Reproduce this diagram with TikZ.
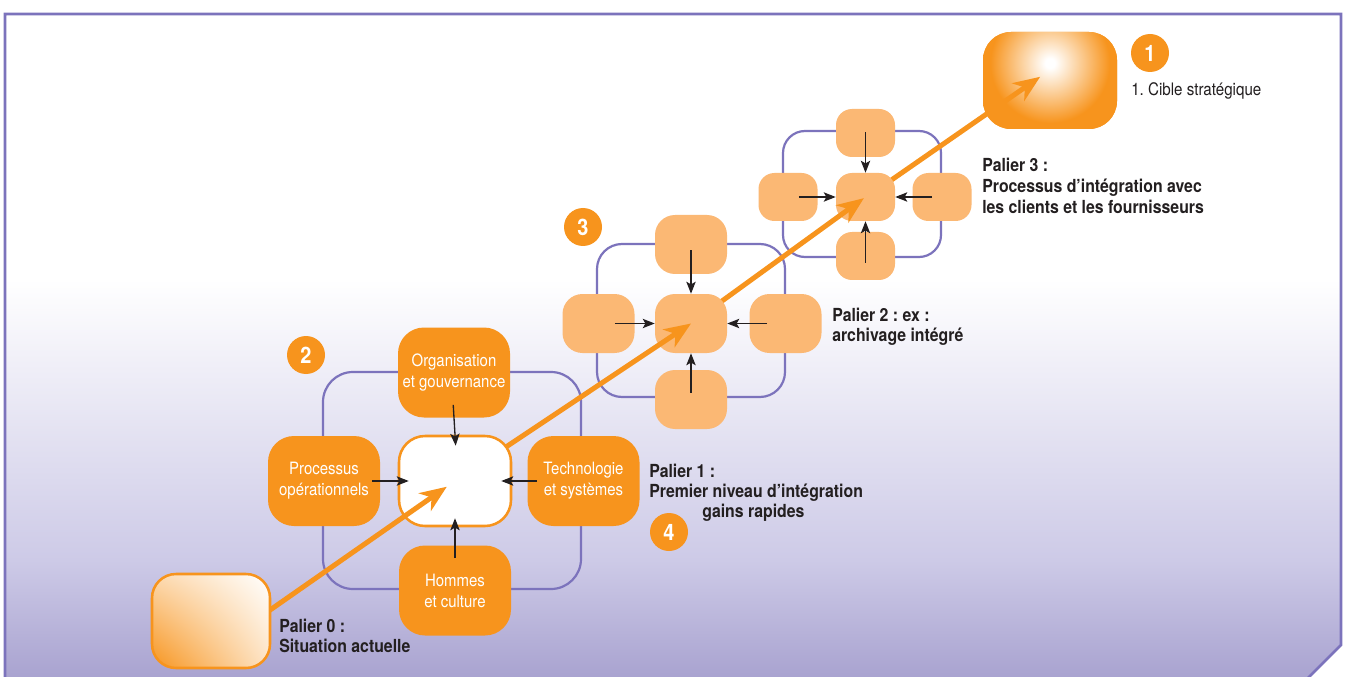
\documentclass[tikz,border=0pt]{standalone}
\usepackage{fontspec}
\setmainfont{TeX Gyre Heros}[FakeStretch=0.88]
\usetikzlibrary{arrows.meta,shadings}

\definecolor{orangeC}{HTML}{F7941D}
\definecolor{lightO}{HTML}{FBB874}
\definecolor{purp}{HTML}{7C73BC}
\definecolor{ink}{HTML}{231F20}
\definecolor{lavB}{HTML}{A9A3D0}
\definecolor{lavM}{HTML}{CDCAE7}

\newcommand{\boxfont}{\fontsize{12.75pt}{15.75pt}\selectfont}
\newcommand{\lblfont}{\fontsize{13.5pt}{15pt}\selectfont\bfseries}
\newcommand{\cibfont}{\fontsize{12.9pt}{15pt}\selectfont}
\newcommand{\badgefont}{\fontsize{17pt}{18pt}\selectfont\bfseries}

% background: white at the top, lavender towards the bottom
% (the filled path spans 25bp..75bp of the shading)
\pgfdeclareverticalshading{bgfade}{100bp}{color(0bp)=(lavB); color(25bp)=(lavB); color(33.8bp)=(lavM); color(55bp)=(white); color(100bp)=(white)}
% bright spot inside the strategic target (circle edge = 25bp, well outside the box)
\pgfdeclareradialshading{glow}{\pgfpointorigin}{color(0bp)=(white); color(0.8bp)=(white); color(10bp)=(orangeC); color(50bp)=(orangeC)}

\begin{document}
\frenchspacing
\begin{tikzpicture}[x=0.75pt, y=-0.75pt,
  cluster/.style={draw=purp, line width=1.65pt, rounded corners=#1},
  box/.style={rectangle, inner sep=0pt, align=center},
  bigbox/.style={box, rounded corners=19.5pt, minimum width=84pt, minimum height=67.5pt, fill=orangeC, text=white, font=\boxfont},
  hubbox/.style={bigbox, fill=white, draw=orangeC, line width=1.9pt},
  midbox/.style={box, rounded corners=15pt, minimum width=54pt, minimum height=44.25pt, fill=lightO},
  smallbox/.style={box, rounded corners=12pt, minimum width=44.25pt, minimum height=36pt, fill=lightO},
  feed/.style={draw=ink, line width=1pt, -{Stealth[length=9pt,width=7pt,inset=2pt]}},
  route/.style={draw=orangeC, line width=3.75pt, -{Stealth[length=20pt,width=16pt,inset=6pt]}},
  badge/.style={circle, fill=orangeC, text=white, minimum size=28.5pt, inner sep=0pt, font=\badgefont},
  lbl/.style={anchor=base west, inner sep=0pt, text=ink, font=\lblfont},
]
\useasboundingbox (0,0) rectangle (1345,677);

% frame with the cut corner
\shade[shading=bgfade] (5,14) -- (1341,14) -- (1341,645) -- (1309,677) -- (5,677) -- cycle;
\draw[purp, line width=1.95pt] (5,682) -- (5,14) -- (1341,14) -- (1341,645) -- (1305,681);

% outlines of the three integration levels
\draw[cluster=22.5pt] (323,372) rectangle (581,589);
\draw[cluster=18.75pt] (597,244) rectangle (785,397);
\draw[cluster=16.5pt] (783,131) rectangle (941,257);

% strategic target
\node[box, rounded corners=21pt, minimum width=100.5pt, minimum height=72.75pt, fill=orangeC,
      path picture={\shade[shading=glow] ([yshift=13pt]path picture bounding box.center) circle (112pt);}]
      (goal) at (1050,80.5) {};
\coordinate (aim) at ([yshift=7.9pt]goal.center);

% level 3
\node[smallbox] (t3) at (865.5,133) {};
\node[smallbox] (l3) at (788,197) {};
\node[smallbox] (r3) at (942,197) {};
\node[smallbox] (b3) at (865.5,256) {};
\draw[route, shorten >=9pt] (865.5,198) coordinate (c3o) -- (aim);
\node[smallbox] (c3) at (865.5,197) {};
\draw[feed, shorten <=-18.75pt] (t3.south) -- (c3.north);
\draw[feed, shorten <=-14.25pt] (l3.east) -- (c3.west);
\draw[feed, shorten <=-15pt] (r3.west) -- (c3.east);
\draw[feed, shorten <=-23.25pt] (b3.north) -- (c3.south);

% level 2
\node[midbox] (t2) at (691,244.5) {};
\node[midbox] (l2) at (598.5,323.5) {};
\node[midbox] (r2) at (785.5,323.5) {};
\node[midbox] (b2) at (691,399.5) {};
\draw[route, shorten >=1.5pt] (691,323.5) -- (c3.center);
\node[midbox] (c2) at (691,323.5) {};
\draw[feed, shorten <=-18pt] (t2.south) -- (c2.north);
\draw[feed, shorten <=-15pt] (l2.east) -- (c2.west);
\draw[feed, shorten <=-13.5pt] (r2.west) -- (c2.east);
\draw[feed, shorten <=-17.25pt] (b2.north) -- (c2.south);

% level 1
\draw[route] (455,481) -- (c2.center);
\node[bigbox] (org) at (454,372.5) {Organisation\\et gouvernance};
\node[bigbox] (proc) at (324,481) {Processus\\opérationnels};
\node[bigbox] (tech) at (583.5,481) {Technologie\\et systèmes};
\node[bigbox] (hom) at (455,590.5) {Hommes\\et culture};
\node[hubbox] (w1) at (455,481) {};
\draw[feed, shorten <=-9.75pt, shorten >=-8.25pt] (org.south) -- (w1.north);
\draw[feed, shorten <=-6pt, shorten >=-8.25pt] (proc.east) -- (w1.west);
\draw[feed, shorten <=-7.5pt, shorten >=-8.25pt] (tech.west) -- (w1.east);
\draw[feed, shorten <=-9.75pt, shorten >=-6.75pt] (hom.north) -- (w1.south);

% level 0
\coordinate (s0) at (240,631);
\draw[route, shorten >=7.5pt] (s0) -- (w1.center);
\node[box, rounded corners=18pt, minimum width=88.5pt, minimum height=70.5pt, draw=orangeC, line width=1.9pt,
      path picture={\shade[lower left=orangeC, upper left=orangeC!35, lower right=orangeC!25, upper right=white]
        (path picture bounding box.south west) rectangle (path picture bounding box.north east);}]
      (start) at (211,621) {};

% numbered badges
\node[badge] (n1) at (1150,53) {1};
\node[badge] (n2) at (306,355) {2};
\node[badge] (n3) at (583,227) {3};
\node[badge] (n4) at (669,532) {4};

% captions
\node[anchor=base west, inner sep=0pt, text=ink, font=\cibfont] (cib) at (1131,96) {1. Cible stratégique};
\node[lbl] (p3a) at (982,172) {Palier 3 :};
\node[lbl] (p3b) at (982,193) {Processus d’intégration avec};
\node[lbl] (p3c) at (982,214) {les clients et les fournisseurs};
\node[lbl] (p2a) at (832,321) {Palier 2 : ex :};
\node[lbl] (p2b) at (832,341) {archivage intégré};
\node[lbl] (p1a) at (649,477) {Palier 1 :};
\node[lbl] (p1b) at (649,497) {Premier niveau d’intégration};
\node[lbl] (p1c) at (702,517) {gains rapides};
\node[lbl] (p0a) at (279,632) {Palier 0 :};
\node[lbl] (p0b) at (279,652) {Situation actuelle};
\end{tikzpicture}
\end{document}
